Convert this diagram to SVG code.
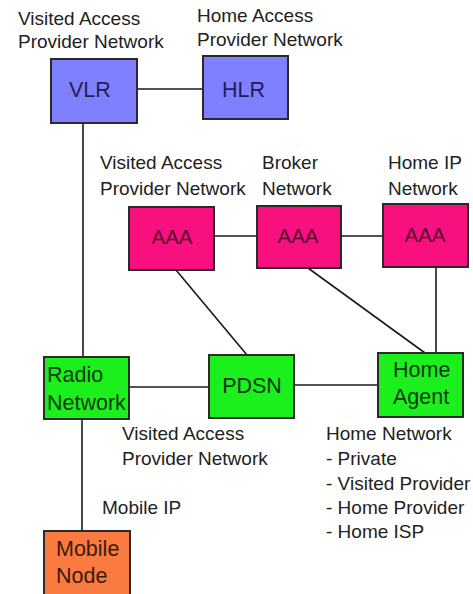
<svg xmlns="http://www.w3.org/2000/svg" width="473" height="594" viewBox="0 0 473 594">
  <style>
    .bg { fill: #ffffff; }
    .box { stroke: #2a2a2a; stroke-width: 2; }
    .blue { fill: #8080ff; }
    .pink { fill: #f8107e; }
    .green { fill: #1cf01c; }
    .orange { fill: #fa7a40; }
    .lbl { font-family: "Liberation Sans", Arial, sans-serif; font-size: 19px; fill: #222222; }
    .nt { font-family: "Liberation Sans", Arial, sans-serif; font-size: 21.5px; }
    .nt-blue { fill: #1e1e5a; }
    .nt-pink { fill: #5a0a30; font-size: 20.5px; }
    .nt-green { fill: #0a3a0a; }
    .nt-orange { fill: #3a1a0a; }
    .wire { stroke: #1a1a1a; stroke-width: 1.6; fill: none; }
  </style>

  <rect class="bg" x="0" y="0" width="473" height="594"/>

  <!-- links between elements -->
  <g id="connectors">
    <line class="wire" x1="137" y1="89" x2="203" y2="89"/>
    <line class="wire" x1="83" y1="123" x2="83" y2="357"/>
    <line class="wire" x1="214" y1="236" x2="257" y2="236"/>
    <line class="wire" x1="341" y1="236" x2="383" y2="236"/>
    <line class="wire" x1="176" y1="270" x2="247" y2="355"/>
    <line class="wire" x1="308" y1="268" x2="425" y2="353"/>
    <line class="wire" x1="436" y1="267" x2="436" y2="353"/>
    <line class="wire" x1="129" y1="387" x2="209" y2="387"/>
    <line class="wire" x1="294" y1="385" x2="378" y2="385"/>
    <line class="wire" x1="82" y1="419" x2="82" y2="531"/>
  </g>

  <!-- domain labels -->
  <g id="labels">
    <text class="lbl" x="18" y="25">Visited Access</text>
    <text class="lbl" x="18" y="48">Provider Network</text>
    <text class="lbl" x="197" y="22">Home Access</text>
    <text class="lbl" x="197" y="46">Provider Network</text>
    <text class="lbl" x="100" y="169">Visited Access</text>
    <text class="lbl" x="100" y="195">Provider Network</text>
    <text class="lbl" x="262" y="169">Broker</text>
    <text class="lbl" x="262" y="195">Network</text>
    <text class="lbl" x="388" y="169">Home IP</text>
    <text class="lbl" x="388" y="195">Network</text>
    <text class="lbl" x="122" y="440">Visited Access</text>
    <text class="lbl" x="122" y="465">Provider Network</text>
    <text class="lbl" x="326" y="440">Home Network</text>
    <text class="lbl" x="326" y="465">- Private</text>
    <text class="lbl" x="326" y="490">- Visited Provider</text>
    <text class="lbl" x="326" y="514">- Home Provider</text>
    <text class="lbl" x="326" y="538">- Home ISP</text>
    <text class="lbl" x="102" y="514">Mobile IP</text>
  </g>

  <g id="vlr">
    <rect class="box blue" x="51" y="59" width="86" height="64"/>
    <text class="nt nt-blue" x="69" y="97">VLR</text>
  </g>
  <g id="hlr">
    <rect class="box blue" x="203" y="56" width="85" height="63"/>
    <text class="nt nt-blue" x="222" y="97">HLR</text>
  </g>

  <g id="aaa-visited">
    <rect class="box pink" x="129" y="207" width="85" height="63"/>
    <text class="nt nt-pink" x="172" y="244" text-anchor="middle">AAA</text>
  </g>
  <g id="aaa-broker">
    <rect class="box pink" x="257" y="206" width="84" height="62"/>
    <text class="nt nt-pink" x="298" y="243" text-anchor="middle">AAA</text>
  </g>
  <g id="aaa-home">
    <rect class="box pink" x="383" y="204" width="85" height="63"/>
    <text class="nt nt-pink" x="425" y="242" text-anchor="middle">AAA</text>
  </g>

  <g id="radio-network">
    <rect class="box green" x="44" y="357" width="85" height="62"/>
    <text class="nt nt-green" x="47" y="382">Radio</text>
    <text class="nt nt-green" x="47" y="410">Network</text>
  </g>
  <g id="pdsn">
    <rect class="box green" x="209" y="355" width="85" height="63"/>
    <text class="nt nt-green" x="252" y="393" text-anchor="middle">PDSN</text>
  </g>
  <g id="home-agent">
    <rect class="box green" x="378" y="353" width="85" height="64"/>
    <text class="nt nt-green" x="393" y="377">Home</text>
    <text class="nt nt-green" x="393" y="404">Agent</text>
  </g>

  <g id="mobile-node">
    <rect class="box orange" x="44" y="531" width="86" height="66"/>
    <text class="nt nt-orange" x="56" y="556">Mobile</text>
    <text class="nt nt-orange" x="56" y="583">Node</text>
  </g>
</svg>
